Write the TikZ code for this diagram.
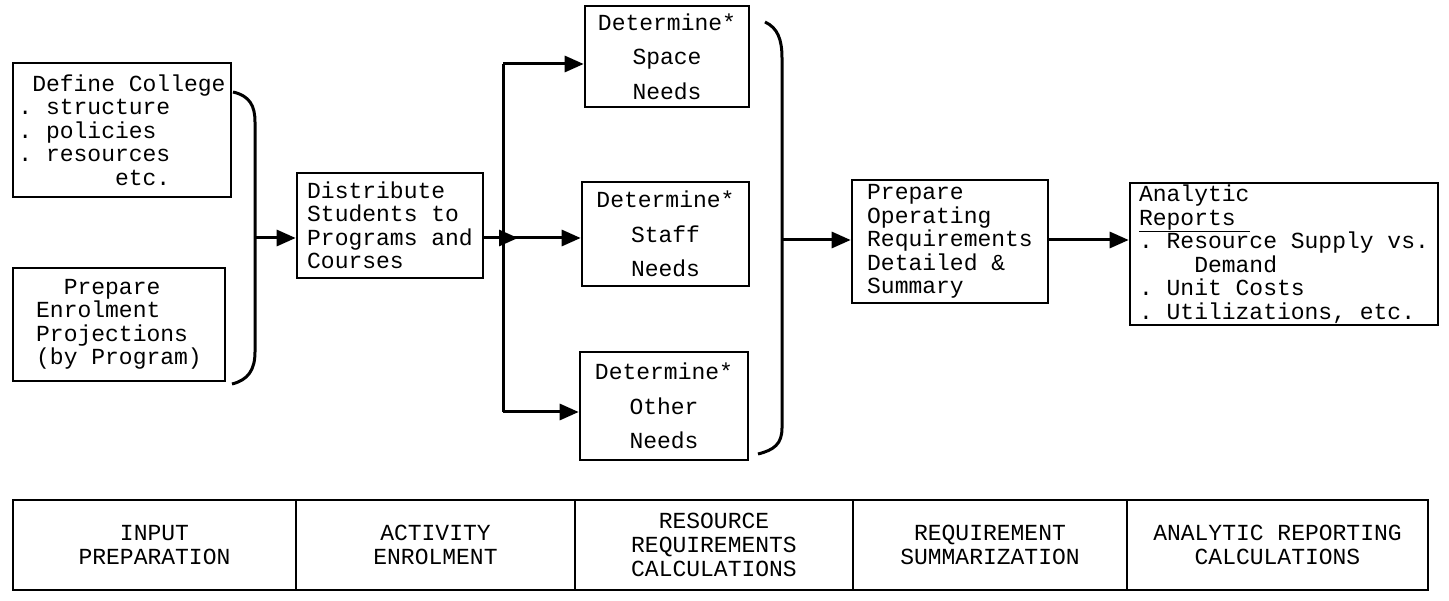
\documentclass[tikz,border=0pt]{standalone}
\usepackage{fontspec}
\setmainfont{Liberation Mono}
\usetikzlibrary{arrows.meta}
\tikzstyle{procbox}=[draw=black,line width=2.6pt,inner sep=0pt,
                     align=left,font=\fontsize{23}{23.5}\selectfont]
\tikzstyle{needbox}=[procbox,align=center,
                     font=\fontsize{23}{34.5}\selectfont]
\tikzstyle{phasecell}=[draw=black,line width=2.2pt,inner sep=0pt,
                       align=center,minimum height=90pt,
                       font=\fontsize{23}{24}\selectfont]
\tikzstyle{wire}=[line width=3pt]
\tikzstyle{flow}=[wire,-{Triangle[length=19pt,width=16pt]}]
\frenchspacing

\begin{document}
\begin{tikzpicture}[x=1pt,y=-1pt]
    \useasboundingbox (0,0) rectangle (1449,601);
    \newcommand{\rowy}{545}
    % input boxes
    \node (college) at (122,130) [procbox,minimum width=218pt,minimum height=134pt]
      {\hphantom{.}Define College\\. structure\\. policies\\. resources\\\hphantom{0000000}etc.};
    \node (enrol) at (119,324.5) [procbox,minimum width=212pt,minimum height=113pt]
      {\hphantom{00}Prepare\\Enrolment\\Projections\\(by Program)};
    \node (distribute) at (390,225.5) [procbox,minimum width=186pt,minimum height=105pt]
      {Distribute\\Students to\\Programs and\\Courses};
    % resource boxes
    \node (space) at (667,56.5) [needbox,minimum width=164pt,minimum height=101pt]
      {Determine*\\Space\\Needs};
    \node (staff) at (665.5,234) [needbox,minimum width=167pt,minimum height=104pt]
      {Determine*\\Staff\\Needs};
    \node (other) at (664,406) [needbox,minimum width=168pt,minimum height=108pt]
      {Determine*\\Other\\Needs};
    \node (operating) at (950,241.5) [procbox,minimum width=196pt,minimum height=123pt]
      {Prepare\\Operating\\Requirements\\Detailed \&\\Summary};
    \node (analytic) at (1284,254) [procbox,minimum width=308pt,minimum height=142pt]
      {Analytic\\\underline{Reports }\\. Resource Supply vs.\\\hphantom{0000}Demand\\. Unit Costs\\. Utilizations, etc.};
    % braces and junctions
    \coordinate (lj) at (255,238);
    \coordinate (hub) at (503,238);
    \coordinate (top) at (503,64);
    \coordinate (bot) at (503,412);
    \coordinate (rj) at (782,240);
    \draw[wire] (233,92) .. controls (250,96) and (255,106) .. (255,122)
      -- (255,352) .. controls (255,370) and (248,380) .. (232,384);
    \draw[wire] (765,22) .. controls (778,28) and (782,40) .. (782,58)
      -- (782,428) .. controls (782,444) and (774,450) .. (758,454);
    \draw[flow] (lj) -- (distribute.west |- lj);
    \draw[flow] (distribute.east |- hub) -- ([xshift=15pt]hub);
    \draw[wire] (top) -- (bot);
    \draw[flow] (top) -- (space.west |- top);
    \draw[flow] (hub) -- (staff.west |- hub);
    \draw[flow] (bot) -- (other.west |- bot);
    \draw[flow] (rj) -- (operating.west |- rj);
    \draw[flow] (operating.east |- rj) -- (analytic.west |- rj);
    % phase table
    \node (input) at (154.5,\rowy) [phasecell,minimum width=283pt] {INPUT\\PREPARATION};
    \node (activity) at (435.5,\rowy) [phasecell,minimum width=279pt] {ACTIVITY\\ENROLMENT};
    \node (resource) at (714,\rowy) [phasecell,minimum width=278pt] {RESOURCE\\REQUIREMENTS\\CALCULATIONS};
    \node (summary) at (990,\rowy) [phasecell,minimum width=274pt] {REQUIREMENT\\SUMMARIZATION};
    \node (reporting) at (1277.5,\rowy) [phasecell,minimum width=301pt] {ANALYTIC REPORTING\\CALCULATIONS};
\end{tikzpicture}
\end{document}
